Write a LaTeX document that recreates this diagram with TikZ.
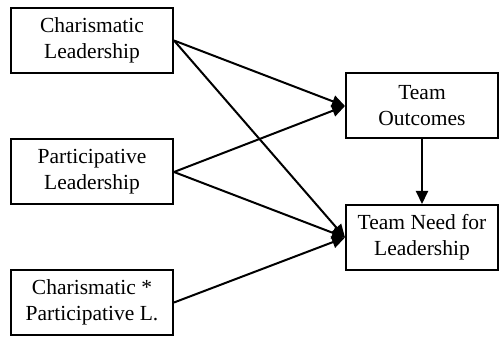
\documentclass[tikz,border=0pt]{standalone}
\usepackage{fontspec}
\setmainfont{Liberation Serif}
\usetikzlibrary{arrows.meta}

\begin{document}
\begin{tikzpicture}[x=1pt, y=-1pt,
	box/.style={draw, line width=2pt, minimum width=162pt, minimum height=65pt,
		align=center, inner sep=0pt, font=\fontsize{21.5}{26}\selectfont},
	link/.style={line width=2pt, -{Triangle[length=13pt,width=12pt]}}]
				\useasboundingbox (0,0) rectangle (499,337);
				\node[box] (charis) at (92,40.5) {Charismatic\\Leadership};
				\node[box] (partic) at (92,172) {Participative\\Leadership};
				\node[box] (inter) at (92,302.5) {Charismatic *\\Participative L.};
				\node[box, minimum width=152pt] (outc) at (422,106) {Team\\Outcomes};
				\node[box, minimum width=152pt] (need) at (422,237.5) {Team Need for\\Leadership};
				\draw[link] (charis.east) -- (outc.west);
				\draw[link] (charis.east) -- (need.west);
				\draw[link] (partic.east) -- (outc.west);
				\draw[link] (partic.east) -- (need.west);
				\draw[link] (inter.east) -- (need.west);
				\draw[link] (outc) -- (need);
			\end{tikzpicture}
\end{document}
